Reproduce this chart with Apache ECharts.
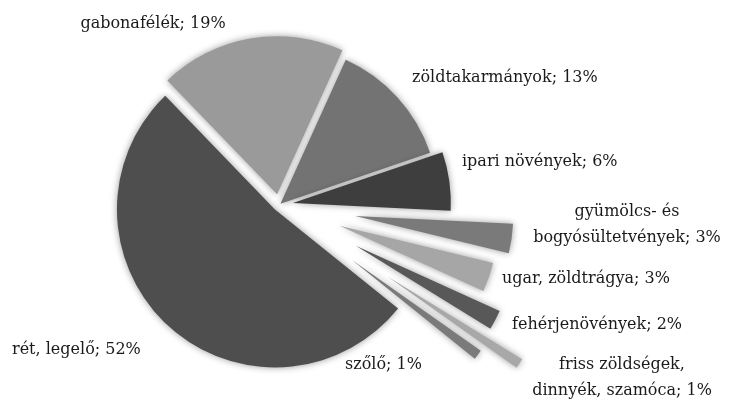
<!DOCTYPE html>
<html>
<head>
<meta charset="utf-8">
<script src="https://cdn.jsdelivr.net/npm/echarts@6/dist/echarts.min.js"></script>
<style>
  html, body { margin: 0; padding: 0; background: #fff; }
  #main { width: 737px; height: 402px; }
</style>
</head>
<body>
<div id="main"></div>
<script>
// földhasználat megoszlása (%)
const names = ['gabonafélék', 'zöldtakarmányok', 'ipari növények', 'gyümölcs- és\nbogyósültetvények',
  'ugar, zöldtrágya', 'fehérjenövények', 'friss zöldségek,\ndinnyék, szamóca', 'szőlő', 'rét, legelő'];
const values = [19, 13, 6, 3, 3, 2, 1, 1, 52];

// looks
const colors = ['#9a9a9a', '#737373', '#3e3e3e', '#7a7a7a', '#a6a6a6', '#585858', '#a8a8a8', '#7a7a7a', '#4e4e4e'];
const explode = [11, 2, 14, 77, 64, 87, 130, 91, 6];
// [x, y, align]
const labelPos = [[153, 24, 'center'], [412, 78, 'left'], [462, 162, 'left'], [627, 225, 'center'],
  [502, 279, 'left'], [512, 325, 'left'], [622, 378, 'center'], [345, 365, 'left'], [12, 350, 'left']];

const cx = 279, cy = 205, radius = 158, startAngle = 134;
const total = values.reduce((a, b) => a + b, 0);

let myChart = echarts.init(document.getElementById('main'));

let series = [];
let cum = 0;
values.forEach((v, i) => {
  let mid = (startAngle - (cum + v / 2) / total * 360) * Math.PI / 180;
  cum += v;
  series.push({
    type: 'pie',
    silent: true,
    radius: radius,
    startAngle: startAngle,
    center: [cx + explode[i] * Math.cos(mid), cy - explode[i] * Math.sin(mid)],
    label: { show: false },
    labelLine: { show: false },
    emphasis: { disabled: true },
    data: values.map((w, j) => ({
      value: w,
      name: names[j],
      itemStyle: j === i ? {
        color: colors[i],
        shadowBlur: 7,
        shadowColor: 'rgba(0,0,0,0.4)'
      } : { color: 'transparent' }
    }))
  });
});

// labels
series.push({
  type: 'pie',
  silent: true,
  radius: radius,
  startAngle: startAngle,
  center: [cx, cy],
  itemStyle: { color: 'transparent' },
  emphasis: { disabled: true },
  labelLine: { show: false },
  label: {
    show: true,
    position: 'inside',
    overflow: 'none',
    formatter: p => p.name + '; ' + p.value + '%',
    fontFamily: 'DejaVu Serif',
    fontSize: 16,
    color: '#1a1a1a',
    lineHeight: 26,
    align: 'center'
  },
  labelLayout: p => ({
    x: labelPos[p.dataIndex][0],
    y: labelPos[p.dataIndex][1],
    align: labelPos[p.dataIndex][2],
    verticalAlign: 'middle'
  }),
  data: values.map((v, j) => ({ value: v, name: names[j] }))
});

myChart.setOption({
  animation: false,
  series: series
});
</script>
</body>
</html>
